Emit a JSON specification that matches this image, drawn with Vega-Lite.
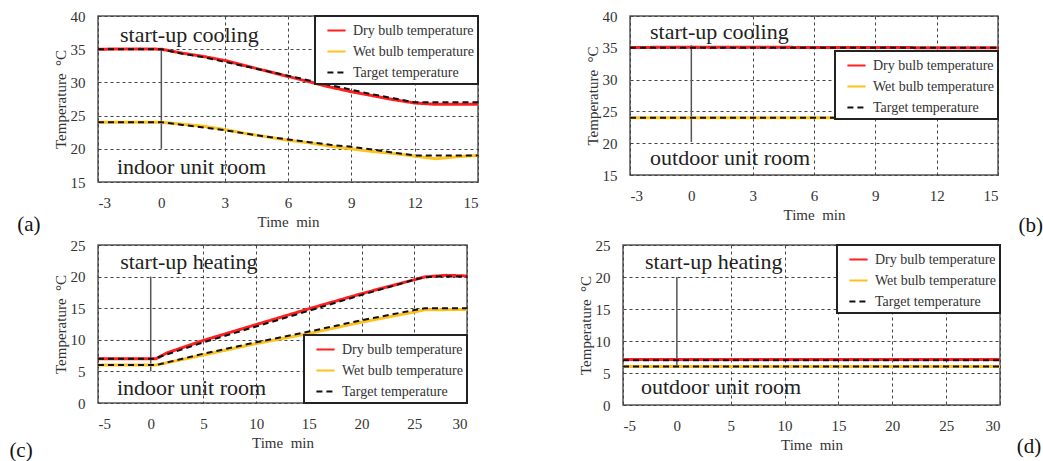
{
  "$schema": "https://vega.github.io/schema/vega-lite/v6.json",
  "background": "white",
  "padding": {"left": 8, "top": 8, "right": 0, "bottom": 0},
  "config": {
    "font": "Liberation Serif",
    "view": {"stroke": "#555", "strokeWidth": 1.5},
    "axis": {
      "labelFont": "Liberation Serif", "labelFontSize": 15, "labelColor": "#333",
      "titleFont": "Liberation Serif", "titleFontSize": 15, "titleFontWeight": "normal", "titleColor": "#333",
      "ticks": false, "domain": false,
      "gridColor": "#444", "gridDash": [3, 3], "gridWidth": 1,
      "labelPadding": 13
    },
    "axisX": {"titlePadding": 4, "labelExpr": "datum.value < 0 ? '-' + abs(datum.value) : '' + datum.value"},
    "axisY": {"titlePadding": 2},
    "legend": {
      "title": null, "offset": 0, "fillColor": "white", "strokeColor": "#222",
      "padding": 4, "labelFont": "Liberation Serif", "labelFontSize": 14, "labelColor": "#333",
      "symbolType": "stroke", "symbolSize": 330, "symbolStrokeWidth": 2, "symbolOffset": 7,
      "rowPadding": 3, "labelOffset": 6
    }
  },
  "datasets": {
    "a": [
      {"t": -3, "v": 35, "s": "Dry bulb temperature", "g": "dry"},
      {"t": -1, "v": 35.05, "s": "Dry bulb temperature", "g": "dry"},
      {"t": 0, "v": 35, "s": "Dry bulb temperature", "g": "dry"},
      {"t": 1, "v": 34.4, "s": "Dry bulb temperature", "g": "dry"},
      {"t": 2, "v": 33.9, "s": "Dry bulb temperature", "g": "dry"},
      {"t": 3, "v": 33.3, "s": "Dry bulb temperature", "g": "dry"},
      {"t": 4, "v": 32.5, "s": "Dry bulb temperature", "g": "dry"},
      {"t": 5, "v": 31.7, "s": "Dry bulb temperature", "g": "dry"},
      {"t": 6, "v": 30.9, "s": "Dry bulb temperature", "g": "dry"},
      {"t": 7, "v": 30.1, "s": "Dry bulb temperature", "g": "dry"},
      {"t": 8, "v": 29.3, "s": "Dry bulb temperature", "g": "dry"},
      {"t": 9, "v": 28.6, "s": "Dry bulb temperature", "g": "dry"},
      {"t": 10, "v": 28.0, "s": "Dry bulb temperature", "g": "dry"},
      {"t": 11, "v": 27.4, "s": "Dry bulb temperature", "g": "dry"},
      {"t": 12, "v": 26.9, "s": "Dry bulb temperature", "g": "dry"},
      {"t": 13, "v": 26.7, "s": "Dry bulb temperature", "g": "dry"},
      {"t": 14, "v": 26.7, "s": "Dry bulb temperature", "g": "dry"},
      {"t": 15, "v": 26.7, "s": "Dry bulb temperature", "g": "dry"},
      {"t": -3, "v": 24, "s": "Wet bulb temperature", "g": "wet"},
      {"t": 0, "v": 24, "s": "Wet bulb temperature", "g": "wet"},
      {"t": 1, "v": 23.7, "s": "Wet bulb temperature", "g": "wet"},
      {"t": 2, "v": 23.4, "s": "Wet bulb temperature", "g": "wet"},
      {"t": 3, "v": 22.9, "s": "Wet bulb temperature", "g": "wet"},
      {"t": 4, "v": 22.3, "s": "Wet bulb temperature", "g": "wet"},
      {"t": 5, "v": 21.8, "s": "Wet bulb temperature", "g": "wet"},
      {"t": 6, "v": 21.3, "s": "Wet bulb temperature", "g": "wet"},
      {"t": 7, "v": 20.9, "s": "Wet bulb temperature", "g": "wet"},
      {"t": 8, "v": 20.4, "s": "Wet bulb temperature", "g": "wet"},
      {"t": 9, "v": 20.0, "s": "Wet bulb temperature", "g": "wet"},
      {"t": 10, "v": 19.6, "s": "Wet bulb temperature", "g": "wet"},
      {"t": 11, "v": 19.3, "s": "Wet bulb temperature", "g": "wet"},
      {"t": 12, "v": 18.9, "s": "Wet bulb temperature", "g": "wet"},
      {"t": 13, "v": 18.5, "s": "Wet bulb temperature", "g": "wet"},
      {"t": 14, "v": 18.8, "s": "Wet bulb temperature", "g": "wet"},
      {"t": 15, "v": 19.0, "s": "Wet bulb temperature", "g": "wet"},
      {"t": -3, "v": 35, "s": "Target temperature", "g": "tdry"},
      {"t": 0, "v": 35, "s": "Target temperature", "g": "tdry"},
      {"t": 1, "v": 34.3, "s": "Target temperature", "g": "tdry"},
      {"t": 2, "v": 33.8, "s": "Target temperature", "g": "tdry"},
      {"t": 3, "v": 33.1, "s": "Target temperature", "g": "tdry"},
      {"t": 4, "v": 32.4, "s": "Target temperature", "g": "tdry"},
      {"t": 5, "v": 31.7, "s": "Target temperature", "g": "tdry"},
      {"t": 6, "v": 31.0, "s": "Target temperature", "g": "tdry"},
      {"t": 7, "v": 30.3, "s": "Target temperature", "g": "tdry"},
      {"t": 8, "v": 29.6, "s": "Target temperature", "g": "tdry"},
      {"t": 9, "v": 28.9, "s": "Target temperature", "g": "tdry"},
      {"t": 10, "v": 28.2, "s": "Target temperature", "g": "tdry"},
      {"t": 11, "v": 27.6, "s": "Target temperature", "g": "tdry"},
      {"t": 12, "v": 27.0, "s": "Target temperature", "g": "tdry"},
      {"t": 15, "v": 27.0, "s": "Target temperature", "g": "tdry"},
      {"t": -3, "v": 24, "s": "Target temperature", "g": "twet"},
      {"t": 0, "v": 24, "s": "Target temperature", "g": "twet"},
      {"t": 1, "v": 23.6, "s": "Target temperature", "g": "twet"},
      {"t": 2, "v": 23.2, "s": "Target temperature", "g": "twet"},
      {"t": 3, "v": 22.8, "s": "Target temperature", "g": "twet"},
      {"t": 4, "v": 22.3, "s": "Target temperature", "g": "twet"},
      {"t": 5, "v": 21.8, "s": "Target temperature", "g": "twet"},
      {"t": 6, "v": 21.4, "s": "Target temperature", "g": "twet"},
      {"t": 7, "v": 21.0, "s": "Target temperature", "g": "twet"},
      {"t": 8, "v": 20.6, "s": "Target temperature", "g": "twet"},
      {"t": 9, "v": 20.3, "s": "Target temperature", "g": "twet"},
      {"t": 10, "v": 19.9, "s": "Target temperature", "g": "twet"},
      {"t": 11, "v": 19.4, "s": "Target temperature", "g": "twet"},
      {"t": 12, "v": 19.0, "s": "Target temperature", "g": "twet"},
      {"t": 15, "v": 19.0, "s": "Target temperature", "g": "twet"}
    ],
    "b": [
      {"t": -3, "v": 35.05, "s": "Dry bulb temperature", "g": "dry"},
      {"t": 0, "v": 35.1, "s": "Dry bulb temperature", "g": "dry"},
      {"t": 15, "v": 35.0, "s": "Dry bulb temperature", "g": "dry"},
      {"t": -3, "v": 24.0, "s": "Wet bulb temperature", "g": "wet"},
      {"t": 15, "v": 24.0, "s": "Wet bulb temperature", "g": "wet"},
      {"t": -3, "v": 35, "s": "Target temperature", "g": "tdry"},
      {"t": 15, "v": 35, "s": "Target temperature", "g": "tdry"},
      {"t": -3, "v": 24, "s": "Target temperature", "g": "twet"},
      {"t": 15, "v": 24, "s": "Target temperature", "g": "twet"}
    ],
    "c": [
      {"t": -5, "v": 7, "s": "Dry bulb temperature", "g": "dry"},
      {"t": 0.5, "v": 7, "s": "Dry bulb temperature", "g": "dry"},
      {"t": 1.5, "v": 7.9, "s": "Dry bulb temperature", "g": "dry"},
      {"t": 5, "v": 9.9, "s": "Dry bulb temperature", "g": "dry"},
      {"t": 10, "v": 12.4, "s": "Dry bulb temperature", "g": "dry"},
      {"t": 15, "v": 14.9, "s": "Dry bulb temperature", "g": "dry"},
      {"t": 20, "v": 17.3, "s": "Dry bulb temperature", "g": "dry"},
      {"t": 25, "v": 19.5, "s": "Dry bulb temperature", "g": "dry"},
      {"t": 26, "v": 19.95, "s": "Dry bulb temperature", "g": "dry"},
      {"t": 28, "v": 20.2, "s": "Dry bulb temperature", "g": "dry"},
      {"t": 30, "v": 20.1, "s": "Dry bulb temperature", "g": "dry"},
      {"t": -5, "v": 6, "s": "Wet bulb temperature", "g": "wet"},
      {"t": 0.5, "v": 6, "s": "Wet bulb temperature", "g": "wet"},
      {"t": 5, "v": 7.6, "s": "Wet bulb temperature", "g": "wet"},
      {"t": 10, "v": 9.4, "s": "Wet bulb temperature", "g": "wet"},
      {"t": 15, "v": 11.0, "s": "Wet bulb temperature", "g": "wet"},
      {"t": 20, "v": 12.8, "s": "Wet bulb temperature", "g": "wet"},
      {"t": 25, "v": 14.4, "s": "Wet bulb temperature", "g": "wet"},
      {"t": 26, "v": 14.75, "s": "Wet bulb temperature", "g": "wet"},
      {"t": 30, "v": 14.8, "s": "Wet bulb temperature", "g": "wet"},
      {"t": -5, "v": 7, "s": "Target temperature", "g": "tdry"},
      {"t": 0.3, "v": 7, "s": "Target temperature", "g": "tdry"},
      {"t": 5, "v": 9.6, "s": "Target temperature", "g": "tdry"},
      {"t": 10, "v": 12.1, "s": "Target temperature", "g": "tdry"},
      {"t": 15, "v": 14.6, "s": "Target temperature", "g": "tdry"},
      {"t": 20, "v": 17.1, "s": "Target temperature", "g": "tdry"},
      {"t": 25, "v": 19.5, "s": "Target temperature", "g": "tdry"},
      {"t": 26, "v": 19.9, "s": "Target temperature", "g": "tdry"},
      {"t": 27, "v": 20, "s": "Target temperature", "g": "tdry"},
      {"t": 30, "v": 20, "s": "Target temperature", "g": "tdry"},
      {"t": -5, "v": 6, "s": "Target temperature", "g": "twet"},
      {"t": 0.5, "v": 6, "s": "Target temperature", "g": "twet"},
      {"t": 5, "v": 7.8, "s": "Target temperature", "g": "twet"},
      {"t": 10, "v": 9.6, "s": "Target temperature", "g": "twet"},
      {"t": 15, "v": 11.3, "s": "Target temperature", "g": "twet"},
      {"t": 20, "v": 13.1, "s": "Target temperature", "g": "twet"},
      {"t": 25, "v": 14.7, "s": "Target temperature", "g": "twet"},
      {"t": 26, "v": 15, "s": "Target temperature", "g": "twet"},
      {"t": 30, "v": 15, "s": "Target temperature", "g": "twet"}
    ],
    "d": [
      {"t": -5, "v": 7.1, "s": "Dry bulb temperature", "g": "dry"},
      {"t": 30, "v": 7.1, "s": "Dry bulb temperature", "g": "dry"},
      {"t": -5, "v": 6.0, "s": "Wet bulb temperature", "g": "wet"},
      {"t": 30, "v": 6.0, "s": "Wet bulb temperature", "g": "wet"},
      {"t": -5, "v": 7, "s": "Target temperature", "g": "tdry"},
      {"t": 30, "v": 7, "s": "Target temperature", "g": "tdry"},
      {"t": -5, "v": 6, "s": "Target temperature", "g": "twet"},
      {"t": 30, "v": 6, "s": "Target temperature", "g": "twet"}
    ]
  },
  "spacing": 0,
  "resolve": {"scale": {"color": "independent", "strokeDash": "independent"}, "legend": {"color": "independent", "strokeDash": "independent"}},
  "vconcat": [
    {
      "hconcat": [
        {
          "width": 380, "height": 166,
          "encoding": {
            "x": {"field": "t", "type": "quantitative", "scale": {"domain": [-3, 15], "nice": false, "zero": false}, "axis": {"values": [-3, 0, 3, 6, 9, 12, 15], "title": "Time \u00a0min", "gridOpacity": {"condition": {"test": "datum.value === 0", "value": 0}, "value": 1}}},
            "y": {"field": "v", "type": "quantitative", "scale": {"domain": [15, 40], "nice": false, "zero": false}, "axis": {"values": [15, 20, 25, 30, 35, 40], "title": "Temperature \u00a0°C"}}
          },
          "layer": [
            {"data": {"values": [{"t": 0, "v": 20, "v2": 35}]}, "mark": {"type": "rule", "color": "#555", "strokeWidth": 1.5}, "encoding": {"y2": {"field": "v2"}}},
            {"data": {"name": "a"}, "transform": [{"filter": "datum.s !== 'Target temperature'"}], "mark": {"type": "line", "strokeWidth": 3},
             "encoding": {"detail": {"field": "g"},
               "color": {"field": "s", "type": "nominal", "scale": {"domain": ["Dry bulb temperature", "Wet bulb temperature", "Target temperature"], "range": ["#ff1f1f", "#ffc21a", "#111111"]}, "legend": {"orient": "top-right", "title": null, "encode": {"legend": {"update": {"strokeWidth": {"value": 2}}}}}},
               "strokeDash": {"field": "s", "type": "nominal", "scale": {"domain": ["Dry bulb temperature", "Wet bulb temperature", "Target temperature"], "range": [[1, 0], [1, 0], [6, 4]]}, "legend": {"orient": "top-right", "title": null}}}},
            {"data": {"name": "a"}, "transform": [{"filter": "datum.s === 'Target temperature'"}], "mark": {"type": "line", "strokeWidth": 2},
             "encoding": {"detail": {"field": "g"},
               "color": {"field": "s", "type": "nominal", "scale": {"domain": ["Dry bulb temperature", "Wet bulb temperature", "Target temperature"], "range": ["#ff1f1f", "#ffc21a", "#111111"]}, "legend": {"orient": "top-right", "title": null, "encode": {"legend": {"update": {"strokeWidth": {"value": 2}}}}}},
               "strokeDash": {"field": "s", "type": "nominal", "scale": {"domain": ["Dry bulb temperature", "Wet bulb temperature", "Target temperature"], "range": [[1, 0], [1, 0], [6, 4]]}, "legend": {"orient": "top-right", "title": null}}}},
            {"data": {"values": [{"t": -1.96, "v": 36.1, "label": "start-up cooling"}, {"t": -2.1, "v": 16.2, "label": "indoor unit room"}]}, "mark": {"type": "text", "align": "left", "baseline": "alphabetic", "font": "Liberation Serif", "fontSize": 22, "color": "#222"}, "encoding": {"text": {"field": "label"}}},
            {"data": {"values": [{"t": -6.27, "v": 7.6, "label": "(a)"}]}, "mark": {"type": "text", "align": "center", "baseline": "alphabetic", "font": "Liberation Serif", "fontSize": 21, "color": "#111", "clip": false}, "encoding": {"text": {"field": "label"}}}
          ]
        },
        {
          "width": 368, "height": 159,
          "encoding": {
            "x": {"field": "t", "type": "quantitative", "scale": {"domain": [-3, 15], "nice": false, "zero": false}, "axis": {"values": [-3, 0, 3, 6, 9, 12, 15], "title": "Time \u00a0min", "gridOpacity": {"condition": {"test": "datum.value === 0", "value": 0}, "value": 1}}},
            "y": {"field": "v", "type": "quantitative", "scale": {"domain": [15, 40], "nice": false, "zero": false}, "axis": {"values": [15, 20, 25, 30, 35, 40], "title": "Temperature \u00a0°C"}}
          },
          "layer": [
            {"data": {"values": [{"t": 0, "v": 20.2, "v2": 35.4}]}, "mark": {"type": "rule", "color": "#555", "strokeWidth": 1.5}, "encoding": {"y2": {"field": "v2"}}},
            {"data": {"name": "b"}, "transform": [{"filter": "datum.s !== 'Target temperature'"}], "mark": {"type": "line", "strokeWidth": 3},
             "encoding": {"detail": {"field": "g"},
               "color": {"field": "s", "type": "nominal", "scale": {"domain": ["Dry bulb temperature", "Wet bulb temperature", "Target temperature"], "range": ["#ff1f1f", "#ffc21a", "#111111"]}, "legend": {"orient": "none", "legendX": 205, "legendY": 35, "title": null, "encode": {"legend": {"update": {"strokeWidth": {"value": 2}}}}}},
               "strokeDash": {"field": "s", "type": "nominal", "scale": {"domain": ["Dry bulb temperature", "Wet bulb temperature", "Target temperature"], "range": [[1, 0], [1, 0], [6, 4]]}, "legend": {"orient": "none", "legendX": 205, "legendY": 35, "title": null}}}},
            {"data": {"name": "b"}, "transform": [{"filter": "datum.s === 'Target temperature'"}], "mark": {"type": "line", "strokeWidth": 2},
             "encoding": {"detail": {"field": "g"},
               "color": {"field": "s", "type": "nominal", "scale": {"domain": ["Dry bulb temperature", "Wet bulb temperature", "Target temperature"], "range": ["#ff1f1f", "#ffc21a", "#111111"]}, "legend": {"orient": "none", "legendX": 205, "legendY": 35, "title": null, "encode": {"legend": {"update": {"strokeWidth": {"value": 2}}}}}},
               "strokeDash": {"field": "s", "type": "nominal", "scale": {"domain": ["Dry bulb temperature", "Wet bulb temperature", "Target temperature"], "range": [[1, 0], [1, 0], [6, 4]]}, "legend": {"orient": "none", "legendX": 205, "legendY": 35, "title": null}}}},
            {"data": {"values": [{"t": -2.02, "v": 36.4, "label": "start-up cooling"}, {"t": -2.02, "v": 16.6, "label": "outdoor unit room"}]}, "mark": {"type": "text", "align": "left", "baseline": "alphabetic", "font": "Liberation Serif", "fontSize": 22, "color": "#222"}, "encoding": {"text": {"field": "label"}}},
            {"data": {"values": [{"t": 16.6, "v": 6.04, "label": "(b)"}]}, "mark": {"type": "text", "align": "center", "baseline": "alphabetic", "font": "Liberation Serif", "fontSize": 21, "color": "#111", "clip": false}, "encoding": {"text": {"field": "label"}}}
          ]
        }
      ],
      "spacing": 152,
      "bounds": "flush",
      "resolve": {"scale": {"color": "independent", "strokeDash": "independent"}, "legend": {"color": "independent", "strokeDash": "independent"}}
    },
    {
      "hconcat": [
        {
          "width": 369, "height": 158,
          "encoding": {
            "x": {"field": "t", "type": "quantitative", "scale": {"domain": [-5, 30], "nice": false, "zero": false}, "axis": {"values": [-5, 0, 5, 10, 15, 20, 25, 30], "title": "Time \u00a0min", "gridOpacity": {"condition": {"test": "datum.value === 0", "value": 0}, "value": 1}}},
            "y": {"field": "v", "type": "quantitative", "scale": {"domain": [0, 25], "nice": false, "zero": false}, "axis": {"values": [0, 5, 10, 15, 20, 25], "title": "Temperature \u00a0°C"}}
          },
          "layer": [
            {"data": {"values": [{"t": 0, "v": 5, "v2": 20}]}, "mark": {"type": "rule", "color": "#555", "strokeWidth": 1.5}, "encoding": {"y2": {"field": "v2"}}},
            {"data": {"name": "c"}, "transform": [{"filter": "datum.s !== 'Target temperature'"}], "mark": {"type": "line", "strokeWidth": 3},
             "encoding": {"detail": {"field": "g"},
               "color": {"field": "s", "type": "nominal", "scale": {"domain": ["Dry bulb temperature", "Wet bulb temperature", "Target temperature"], "range": ["#ff1f1f", "#ffc21a", "#111111"]}, "legend": {"orient": "bottom-right", "title": null, "encode": {"legend": {"update": {"strokeWidth": {"value": 2}}}}}},
               "strokeDash": {"field": "s", "type": "nominal", "scale": {"domain": ["Dry bulb temperature", "Wet bulb temperature", "Target temperature"], "range": [[1, 0], [1, 0], [6, 4]]}, "legend": {"orient": "bottom-right", "title": null}}}},
            {"data": {"name": "c"}, "transform": [{"filter": "datum.s === 'Target temperature'"}], "mark": {"type": "line", "strokeWidth": 2},
             "encoding": {"detail": {"field": "g"},
               "color": {"field": "s", "type": "nominal", "scale": {"domain": ["Dry bulb temperature", "Wet bulb temperature", "Target temperature"], "range": ["#ff1f1f", "#ffc21a", "#111111"]}, "legend": {"orient": "bottom-right", "title": null, "encode": {"legend": {"update": {"strokeWidth": {"value": 2}}}}}},
               "strokeDash": {"field": "s", "type": "nominal", "scale": {"domain": ["Dry bulb temperature", "Wet bulb temperature", "Target temperature"], "range": [[1, 0], [1, 0], [6, 4]]}, "legend": {"orient": "bottom-right", "title": null}}}},
            {"data": {"values": [{"t": -2.9, "v": 21.2, "label": "start-up heating"}, {"t": -3.2, "v": 1.27, "label": "indoor unit room"}]}, "mark": {"type": "text", "align": "left", "baseline": "alphabetic", "font": "Liberation Serif", "fontSize": 22, "color": "#222"}, "encoding": {"text": {"field": "label"}}},
            {"data": {"values": [{"t": -12.3, "v": -8.5, "label": "(c)"}]}, "mark": {"type": "text", "align": "center", "baseline": "alphabetic", "font": "Liberation Serif", "fontSize": 21, "color": "#111", "clip": false}, "encoding": {"text": {"field": "label"}}}
          ]
        },
        {
          "width": 377, "height": 160,
          "encoding": {
            "x": {"field": "t", "type": "quantitative", "scale": {"domain": [-5, 30], "nice": false, "zero": false}, "axis": {"values": [-5, 0, 5, 10, 15, 20, 25, 30], "title": "Time \u00a0min", "gridOpacity": {"condition": {"test": "datum.value === 0", "value": 0}, "value": 1}}},
            "y": {"field": "v", "type": "quantitative", "scale": {"domain": [0, 25], "nice": false, "zero": false}, "axis": {"values": [0, 5, 10, 15, 20, 25], "title": "Temperature \u00a0°C"}}
          },
          "layer": [
            {"data": {"values": [{"t": 0, "v": 6, "v2": 20}]}, "mark": {"type": "rule", "color": "#555", "strokeWidth": 1.5}, "encoding": {"y2": {"field": "v2"}}},
            {"data": {"name": "d"}, "transform": [{"filter": "datum.s !== 'Target temperature'"}], "mark": {"type": "line", "strokeWidth": 3},
             "encoding": {"detail": {"field": "g"},
               "color": {"field": "s", "type": "nominal", "scale": {"domain": ["Dry bulb temperature", "Wet bulb temperature", "Target temperature"], "range": ["#ff1f1f", "#ffc21a", "#111111"]}, "legend": {"orient": "top-right", "title": null, "encode": {"legend": {"update": {"strokeWidth": {"value": 2}}}}}},
               "strokeDash": {"field": "s", "type": "nominal", "scale": {"domain": ["Dry bulb temperature", "Wet bulb temperature", "Target temperature"], "range": [[1, 0], [1, 0], [6, 4]]}, "legend": {"orient": "top-right", "title": null}}}},
            {"data": {"name": "d"}, "transform": [{"filter": "datum.s === 'Target temperature'"}], "mark": {"type": "line", "strokeWidth": 2},
             "encoding": {"detail": {"field": "g"},
               "color": {"field": "s", "type": "nominal", "scale": {"domain": ["Dry bulb temperature", "Wet bulb temperature", "Target temperature"], "range": ["#ff1f1f", "#ffc21a", "#111111"]}, "legend": {"orient": "top-right", "title": null, "encode": {"legend": {"update": {"strokeWidth": {"value": 2}}}}}},
               "strokeDash": {"field": "s", "type": "nominal", "scale": {"domain": ["Dry bulb temperature", "Wet bulb temperature", "Target temperature"], "range": [[1, 0], [1, 0], [6, 4]]}, "legend": {"orient": "top-right", "title": null}}}},
            {"data": {"values": [{"t": -2.96, "v": 21.25, "label": "start-up heating"}, {"t": -3.33, "v": 1.7, "label": "outdoor unit room"}]}, "mark": {"type": "text", "align": "left", "baseline": "alphabetic", "font": "Liberation Serif", "fontSize": 22, "color": "#222"}, "encoding": {"text": {"field": "label"}}},
            {"data": {"values": [{"t": 32.7, "v": -7.5, "label": "(d)"}]}, "mark": {"type": "text", "align": "center", "baseline": "alphabetic", "font": "Liberation Serif", "fontSize": 21, "color": "#111", "clip": false}, "encoding": {"text": {"field": "label"}}}
          ]
        }
      ],
      "spacing": 156,
      "bounds": "flush",
      "resolve": {"scale": {"color": "independent", "strokeDash": "independent"}, "legend": {"color": "independent", "strokeDash": "independent"}}
    }
  ]
}
